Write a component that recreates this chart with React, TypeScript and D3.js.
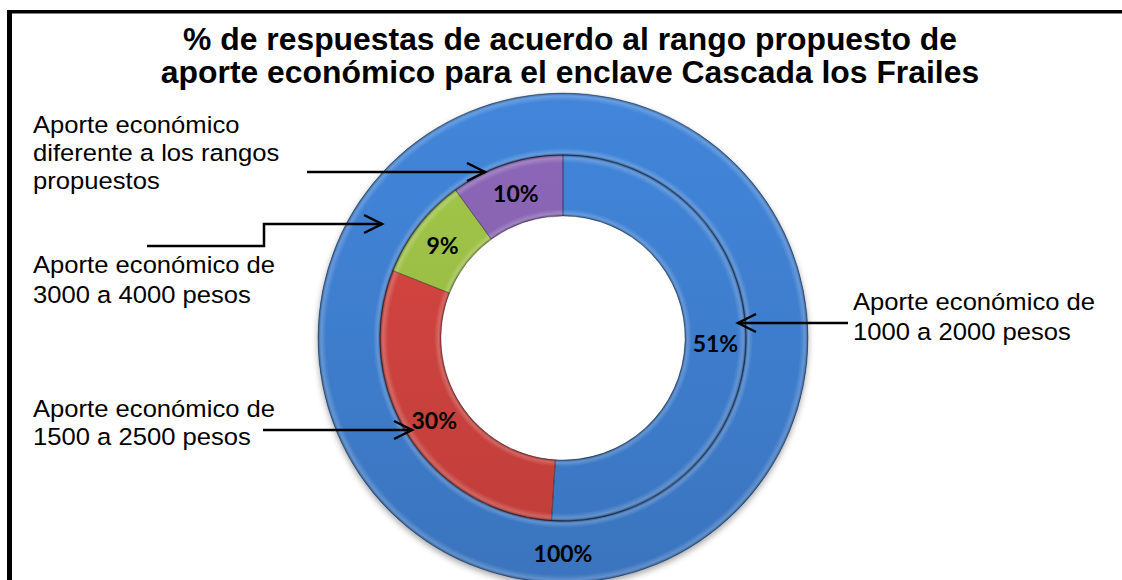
import React from 'react';
import * as d3 from 'd3';

// ---- data ----
const innerCategories = ['1000 a 2000 pesos', '1500 a 2500 pesos', '3000 a 4000 pesos', 'Diferente a los rangos'];
const innerValues = [51, 30, 9, 10];
const outerCategories = ['Total'];
const outerValues = [100];
const innerColors = ['#3f7fd0', '#d0433f', '#9bbf45', '#8763b0'];
const outerColors = ['#3f7fd0'];
const titleLines = [
  '% de respuestas de acuerdo al rango propuesto de',
  'aporte económico para el enclave Cascada los Frailes',
];
const labelLines = [
  ['Aporte económico', 'diferente a los rangos', 'propuestos'],
  ['Aporte económico de', '3000 a 4000 pesos'],
  ['Aporte económico de', '1500 a 2500 pesos'],
  ['Aporte económico de', '1000 a 2000 pesos'],
];

// ---- layout ----
const W = 1122;
const H = 580;
const cx = 563;
const cy = 338;
const R0 = 122;
const R1 = 183;
const R2 = 245;
const labelPos = [
  { x: 33, ys: [133, 161, 189] },
  { x: 33, ys: [273, 303] },
  { x: 33, ys: [417, 445] },
  { x: 853, ys: [310, 340] },
];
const arrows: [number, number][][] = [
  [[307, 172], [485, 172]],
  [[147, 246], [264, 246], [264, 224], [382, 224]],
  [[263, 430], [412, 430]],
  [[848, 323], [738, 323]],
];

function arrowHead(pts: [number, number][]) {
  const [x1, y1] = pts[pts.length - 2];
  const [x2, y2] = pts[pts.length - 1];
  const len = Math.hypot(x2 - x1, y2 - y1);
  const ux = (x2 - x1) / len;
  const uy = (y2 - y1) / len;
  const back = 18;
  const spread = 9;
  const bx = x2 - ux * back;
  const by = y2 - uy * back;
  return `M${bx - uy * spread},${by + ux * spread}L${x2},${y2}L${bx + uy * spread},${by - ux * spread}`;
}

function bevelStops(r0: number, r1: number) {
  const f = (r: number) => r / r1;
  return [
    { o: f(r0), c: '#000', a: 0.35 },
    { o: f(r0 + 2.5), c: '#fff', a: 0.2 },
    { o: f(r0 + 7), c: '#fff', a: 0 },
    { o: f(r1 - 8), c: '#fff', a: 0 },
    { o: f(r1 - 3), c: '#fff', a: 0.2 },
    { o: 1, c: '#000', a: 0.35 },
  ];
}

export default function App() {
  const pie = d3.pie<number>().sort(null).value((d) => d);
  const innerArcs = pie(innerValues);
  const outerArcs = pie(outerValues);
  const innerArc = d3.arc<d3.PieArcDatum<number>>().innerRadius(R0).outerRadius(R1);
  const outerArc = d3.arc<d3.PieArcDatum<number>>().innerRadius(R1).outerRadius(R2);
  const line = d3.line();

  const allColors = Array.from(new Set([...innerColors, ...outerColors]));
  const gradId = (c: string) => 'lg' + c.replace('#', '');

  return (
    <svg width={W} height={H} style={{ position: 'absolute', left: 0, top: 0, display: 'block' }}>
      <defs>
        {allColors.map((c) => (
          <linearGradient key={c} id={gradId(c)} gradientUnits="userSpaceOnUse" x1={0} y1={-R2} x2={0} y2={R2}>
            <stop offset={0} stopColor={d3.color(c)!.brighter(0.15).formatHex()} />
            <stop offset={1} stopColor={d3.color(c)!.darker(0.25).formatHex()} />
          </linearGradient>
        ))}
        <radialGradient id="bevelInner" gradientUnits="userSpaceOnUse" cx={0} cy={0} r={R1}>
          {bevelStops(R0, R1).map((s, i) => (
            <stop key={i} offset={s.o} stopColor={s.c} stopOpacity={s.a} />
          ))}
        </radialGradient>
        <radialGradient id="bevelOuter" gradientUnits="userSpaceOnUse" cx={0} cy={0} r={R2}>
          {bevelStops(R1, R2).map((s, i) => (
            <stop key={i} offset={s.o} stopColor={s.c} stopOpacity={s.a} />
          ))}
        </radialGradient>
        <filter id="shadow" x="-20%" y="-20%" width="140%" height="140%">
          <feDropShadow dx={0} dy={3} stdDeviation={3} floodColor="#000" floodOpacity={0.35} />
        </filter>
      </defs>
      <rect x={0} y={0} width={W} height={H} fill="#fff" />

      {/* frame */}
      <line x1={9.5} y1={10} x2={9.5} y2={H} stroke="#000" strokeWidth={5} />
      <line x1={7} y1={11.7} x2={W} y2={11.7} stroke="#000" strokeWidth={3.5} />

      {/* title */}
      {titleLines.map((t, i) => (
        <text
          key={i}
          transform={`translate(570,${50 + i * 33}) scale(1.045,1)`}
          textAnchor="middle"
          fontFamily="'Liberation Sans', Arial, sans-serif"
          fontWeight="bold"
          fontSize={30.5}
          fill="#000"
        >
          {t}
        </text>
      ))}

      {/* donut */}
      <g transform={`translate(${cx},${cy})`}>
        <g filter="url(#shadow)">
          {outerArcs.map((a, i) => (
            <path key={'o' + i} d={outerArc(a)!} fill={`url(#${gradId(outerColors[i])})`} />
          ))}
        </g>
        {innerArcs.map((a, i) => (
          <path key={'i' + i} d={innerArc(a)!} fill={`url(#${gradId(innerColors[i])})`} />
        ))}
        {outerArcs.map((a, i) => (
          <path
            key={'ov' + i}
            d={outerArc(a)!}
            fill="url(#bevelOuter)"
            stroke="rgba(0,0,0,0.35)"
            strokeWidth={0.8}
          />
        ))}
        {innerArcs.map((a, i) => (
          <path
            key={'iv' + i}
            d={innerArc(a)!}
            fill="url(#bevelInner)"
            stroke="rgba(0,0,0,0.35)"
            strokeWidth={0.8}
          />
        ))}

        {/* data labels */}
        {innerArcs.map((a, i) => {
          const [x, y] = innerArc.centroid(a);
          return (
            <text
              key={'l' + i}
              x={x}
              y={y + 9}
              textAnchor="middle"
              fontFamily="Lato, 'Open Sans', sans-serif"
              fontWeight="bold"
              fontSize={23}
              fill="#000"
            >
              {innerValues[i]}%
            </text>
          );
        })}
        {outerArcs.map((a, i) => {
          const [x] = outerArc.centroid(a);
          return (
            <text
              key={'ol' + i}
              x={x}
              y={(R1 + R2) / 2 + 10}
              textAnchor="middle"
              fontFamily="Lato, 'Open Sans', sans-serif"
              fontWeight="bold"
              fontSize={23}
              fill="#000"
            >
              {outerValues[i]}%
            </text>
          );
        })}
      </g>

      {/* annotation labels */}
      {labelLines.map((lines, i) =>
        lines.map((t, j) => (
          <text
            key={`t${i}-${j}`}
            transform={`translate(${labelPos[i].x},${labelPos[i].ys[j]}) scale(1.09,1)`}
            fontFamily="'Liberation Sans', Arial, sans-serif"
            fontSize={23.5}
            fill="#000"
          >
            {t}
          </text>
        ))
      )}

      {/* arrows */}
      {arrows.map((pts, i) => (
        <g key={'a' + i} fill="none" stroke="#000" strokeWidth={2.5}>
          <path d={line(pts)!} />
          <path d={arrowHead(pts)} strokeLinejoin="miter" />
        </g>
      ))}
    </svg>
  );
}
